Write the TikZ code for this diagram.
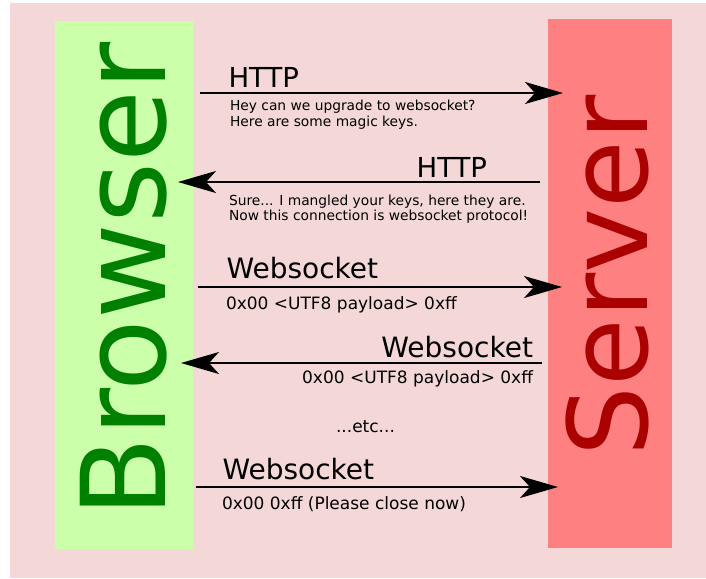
\documentclass[tikz,border=0pt]{standalone}
\usepackage{fontspec}
\setmainfont{DejaVu Sans}
\usetikzlibrary{arrows.meta}

\definecolor{bgpink}{HTML}{F4D7D7}
\definecolor{browserfill}{HTML}{CCFFAA}
\definecolor{browserink}{HTML}{008000}
\definecolor{serverfill}{HTML}{FF8080}
\definecolor{serverink}{HTML}{AA0000}

\begin{document}
\begin{tikzpicture}[
  x=1pt,
  y=-1pt,
  >={Stealth[length=38pt,width=22pt,inset=10pt]},
  every node/.style={inner sep=0pt, outer sep=0pt},
  side/.style={draw=none, rectangle, minimum width=#1, minimum height=528pt},
  proto/.style={font=\fontsize{27.5}{33}\selectfont},
  wsproto/.style={font=\fontsize{28}{34}\selectfont},
  note/.style={font=\fontsize{13.8}{16}\selectfont},
  frame/.style={font=\fontsize{17}{20}\selectfont},
  msg/.style={line width=2pt, ->}
]
\useasboundingbox (0,0) rectangle (706,578);
\fill[bgpink] (10,3) rectangle (706,578);

% the two ends of the connection
\node[side=138pt, fill=browserfill] (browser) at (124,285) {};
\node[side=124pt, fill=serverfill] (server) at (610,283.5) {};
\node[rotate=90, anchor=base, text=browserink, font=\fontsize{117}{117}\selectfont] (browsername) at (165,280) {Browser};
\node[rotate=90, anchor=base, text=serverink, font=\fontsize{110}{110}\selectfont] (servername) at (647,276) {Server};

% handshake request
\coordinate (reqa) at (200,93);
\coordinate (reqb) at (563,93);
\draw[msg] (reqa) -- (reqb);
\node[proto, anchor=base west] (reqproto) at (228.5,87) {HTTP};
\node[note, anchor=base west] (reqline1) at (230,110.5) {Hey can we upgrade to websocket?};
\node[note, anchor=base west] (reqline2) at (230,126) {Here are some magic keys.};

% handshake answer
\coordinate (resa) at (540,182);
\coordinate (resb) at (178,182);
\draw[msg] (resa) -- (resb);
\node[proto, anchor=base east] (resproto) at (487,177) {HTTP};
\node[note, anchor=base west] (resline1) at (229,205) {Sure... I mangled your keys, here they are.};
\node[note, anchor=base west] (resline2) at (229,220) {Now this connection is websocket protocol!};

% frames
\coordinate (upa) at (198,287);
\coordinate (upb) at (562,287);
\draw[msg] (upa) -- (upb);
\node[wsproto, anchor=base west] (upproto) at (226.5,278) {Websocket};
\node[frame, anchor=base west] (upframe) at (226,309) {0x00 <UTF8 payload> 0xff};

\coordinate (downa) at (542,363);
\coordinate (downb) at (181,363);
\draw[msg] (downa) -- (downb);
\node[wsproto, anchor=base east] (downproto) at (533,357) {Websocket};
\node[frame, anchor=base east] (downframe) at (533,383) {0x00 <UTF8 payload> 0xff};

\node[frame, anchor=base] (etc) at (365.5,432) {...etc...};

% closing frame
\coordinate (closea) at (196,487);
\coordinate (closeb) at (558,487);
\draw[msg] (closea) -- (closeb);
\node[wsproto, anchor=base west] (closeproto) at (222.5,479) {Websocket};
\node[frame, anchor=base west] (closeframe) at (222,509) {0x00 0xff (Please close now)};
\end{tikzpicture}
\end{document}
